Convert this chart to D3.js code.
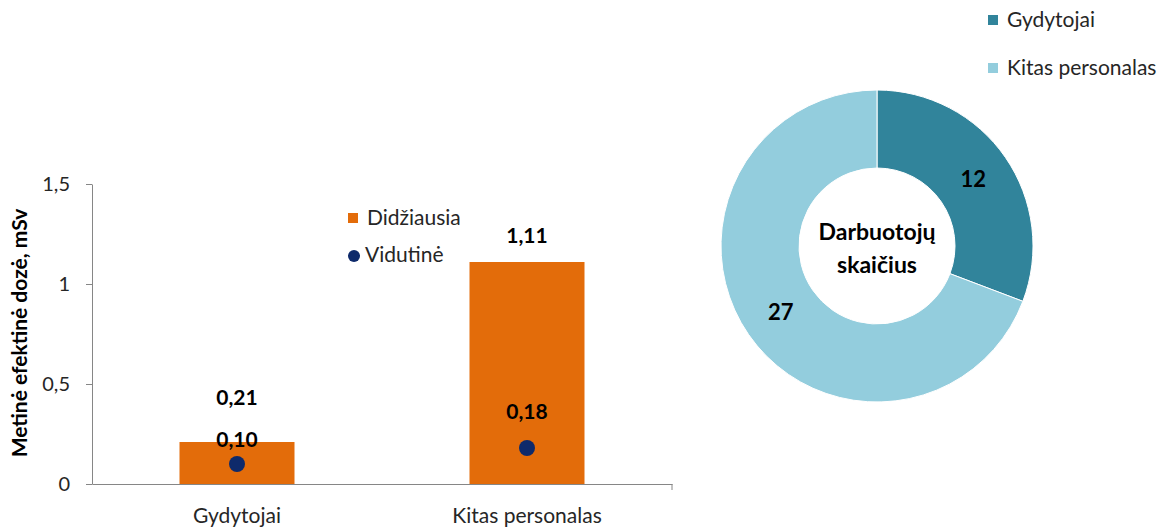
<!DOCTYPE html>
<html><head><meta charset="utf-8">
<script src="https://cdn.jsdelivr.net/npm/d3@7"></script>
<style>body{margin:0;background:#fff}svg{display:block}text{font-family:Lato,"Open Sans",sans-serif}</style>
</head><body>
<svg id="c" width="1173" height="527"></svg>
<script>
const categories = ["Gydytojai", "Kitas personalas"];
const maxDose = [0.21, 1.11];
const avgDose = [0.10, 0.18];
const yTicks = [0, 0.5, 1, 1.5];
const yTickLabels = ["0", "0,5", "1", "1,5"];
const donutCategories = ["Gydytojai", "Kitas personalas"];
const donutValues = [12, 27];
const fmt = v => d3.format(".2f")(v).replace(".", ",");

const svg = d3.select("#c");
const orange = "#E36C0A", navy = "#0E2A6B", teal = "#31849B", light = "#93CDDD";
const txt = "#262626";

// Bar chart
const x = d3.scaleBand().domain(categories).range([92, 672]).paddingInner(0).paddingOuter(0);
const y = d3.scaleLinear().domain([0, 1.5]).range([484, 184]);
const barW = 115;

const yAxis = svg.append("g").attr("transform", "translate(92,0)")
  .call(d3.axisLeft(y).tickValues(yTicks).tickFormat((d,i)=>yTickLabels[i]).tickSize(6).tickSizeOuter(0));
yAxis.selectAll("line,path").attr("stroke", "#868686");
yAxis.selectAll("text").attr("fill", txt).style("font-size", "20px").attr("x", -22);

const xAxis = svg.append("g").attr("transform", "translate(0,484)")
  .call(d3.axisBottom(x).tickSize(6).tickSizeOuter(0));
xAxis.select(".domain").attr("stroke", "#868686");
xAxis.selectAll(".tick line").attr("stroke", "#868686")
  .attr("transform", "translate(" + (x.bandwidth()/2) + ",0)");
xAxis.selectAll(".tick:first-of-type line").remove();
xAxis.selectAll("text").attr("fill", txt).style("font-size", "21px").attr("y", 32).attr("dy", "0.35em");

svg.append("g").selectAll("rect").data(categories).join("rect")
  .attr("x", d => x(d) + x.bandwidth()/2 - barW/2)
  .attr("y", (d,i) => y(maxDose[i]))
  .attr("width", barW)
  .attr("height", (d,i) => y(0) - y(maxDose[i]))
  .attr("fill", orange);

svg.append("g").selectAll("circle").data(categories).join("circle")
  .attr("cx", d => x(d) + x.bandwidth()/2)
  .attr("cy", (d,i) => y(avgDose[i]))
  .attr("r", 8).attr("fill", navy);

const maxOff = [44, 26];
const avgOff = [24, 36];
svg.append("g").selectAll("text").data(categories).join("text")
  .attr("x", d => x(d) + x.bandwidth()/2)
  .attr("y", (d,i) => y(maxDose[i]) - maxOff[i]).attr("dy", "0.35em")
  .attr("text-anchor", "middle").style("font-size", "21px").style("font-weight", "bold").attr("fill", "#000")
  .text((d,i) => fmt(maxDose[i]));
svg.append("g").selectAll("text").data(categories).join("text")
  .attr("x", d => x(d) + x.bandwidth()/2)
  .attr("y", (d,i) => y(avgDose[i]) - avgOff[i]).attr("dy", "0.35em")
  .attr("text-anchor", "middle").style("font-size", "21px").style("font-weight", "bold").attr("fill", "#000")
  .text((d,i) => fmt(avgDose[i]));

svg.append("text").attr("transform", "translate(20,333) rotate(-90)")
  .attr("text-anchor", "middle").attr("dy", "0.35em").style("font-size", "21px").style("font-weight", "bold").attr("fill", "#000")
  .text("Metinė efektinė dozė, mSv");

// bar legend
const lg = svg.append("g");
lg.append("rect").attr("x", 348).attr("y", 213).attr("width", 10).attr("height", 10).attr("fill", orange);
lg.append("text").attr("x", 367).attr("y", 218).attr("dy", "0.35em").style("font-size", "21px").attr("fill", txt).text("Didžiausia");
lg.append("circle").attr("cx", 354).attr("cy", 256).attr("r", 6).attr("fill", navy);
lg.append("text").attr("x", 365).attr("y", 255).attr("dy", "0.35em").style("font-size", "21px").attr("fill", txt).text("Vidutinė");

// Donut
const cx = 877, cy = 246, R = 156, r = 78;
const pie = d3.pie().sort(null)(donutValues);
const arc = d3.arc().innerRadius(r).outerRadius(R);
const dcol = d3.scaleOrdinal().domain(donutCategories).range([teal, light]);
const dg = svg.append("g").attr("transform", `translate(${cx},${cy})`);
dg.selectAll("path").data(pie).join("path")
  .attr("d", arc).attr("fill", (d,i) => dcol(donutCategories[i])).attr("stroke", "#fff").attr("stroke-width", 1);
const lab = d3.arc().innerRadius(117).outerRadius(117);
dg.selectAll("text.v").data(pie).join("text").attr("class", "v")
  .attr("transform", d => `translate(${lab.centroid(d)})`)
  .attr("text-anchor", "middle").attr("dy", "0.35em")
  .style("font-size", "22px").style("font-weight", "bold").attr("fill", "#000")
  .text(d => d.data);
dg.append("text").attr("text-anchor", "middle").attr("y", -14).attr("dy", "0.35em")
  .style("font-size", "23px").style("font-weight", "bold").attr("fill", "#000").text("Darbuotojų");
dg.append("text").attr("text-anchor", "middle").attr("y", 19).attr("dy", "0.35em")
  .style("font-size", "23px").style("font-weight", "bold").attr("fill", "#000").text("skaičius");

// donut legend
const dl = svg.append("g").selectAll("g").data(donutCategories).join("g")
  .attr("transform", (d,i) => `translate(988,${15 + i*48})`);
dl.append("rect").attr("width", 10).attr("height", 10).attr("fill", d => dcol(d));
dl.append("text").attr("x", 19).attr("y", 5).attr("dy", "0.35em").style("font-size", "21px").attr("fill", txt).text(d => d);
</script>
</body></html>
